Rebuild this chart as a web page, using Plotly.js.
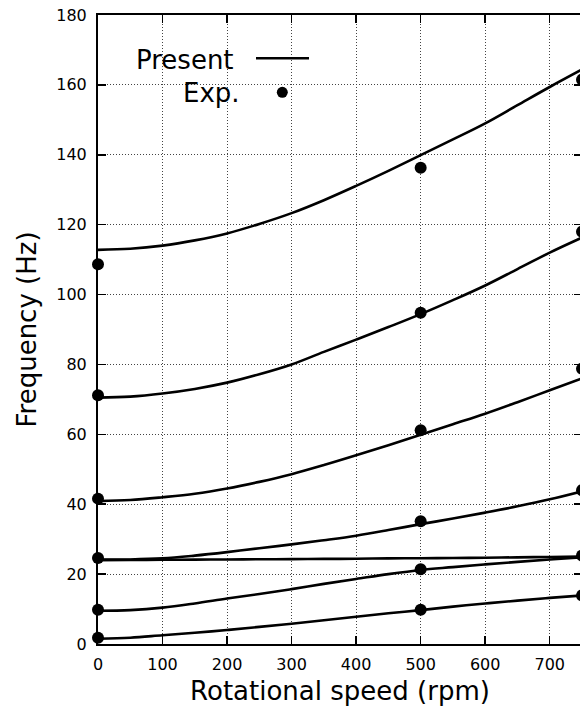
<!DOCTYPE html>
<html>
<head>
<meta charset="utf-8">
<script src="https://cdn.plot.ly/plotly-3.0.1.min.js"></script>
<style>
html, body { margin: 0; padding: 0; width: 580px; height: 715px; overflow: hidden; background: #fff; }
#chart { width: 584px; height: 715px; }
</style>
</head>
<body>
<div id="chart"></div>
<script>
// Rotational speed grid for the computed ("Present") curves
const rpm = [0, 50, 100, 150, 200, 250, 300, 350, 400, 450, 500, 550, 600, 650, 700, 750];

// Present (computed) frequencies, Hz
const mode1 = [1.5, 1.8, 2.5, 3.2, 4.0, 4.9, 5.8, 6.8, 7.8, 8.8, 9.7, 10.7, 11.6, 12.4, 13.2, 13.9];
const mode2 = [9.5, 9.7, 10.4, 11.6, 13.0, 14.3, 15.7, 17.2, 18.6, 20.0, 21.2, 22.0, 22.8, 23.5, 24.2, 24.8];
const mode3 = [24.0, 24.05, 24.1, 24.15, 24.2, 24.25, 24.3, 24.35, 24.4, 24.5, 24.55, 24.6, 24.7, 24.8, 24.9, 25.0];
const mode4 = [24.2, 24.2, 24.5, 25.3, 26.3, 27.4, 28.5, 29.7, 31.0, 32.6, 34.3, 35.9, 37.6, 39.4, 41.4, 43.7];
const mode5 = [40.9, 41.2, 42.0, 43.0, 44.5, 46.4, 48.6, 51.2, 54.0, 56.9, 59.9, 62.9, 65.9, 69.2, 72.6, 76.0];
const mode6 = [70.5, 70.8, 71.7, 73.0, 74.8, 77.2, 80.0, 83.6, 87.1, 90.7, 94.4, 98.4, 102.6, 107.3, 112.0, 116.3];
const mode7 = [112.8, 113.1, 114.0, 115.5, 117.5, 120.2, 123.3, 127.0, 131.1, 135.4, 139.9, 144.4, 149.0, 154.2, 159.4, 164.4];

// Experimental frequencies, Hz, at three speeds
const expSpeeds = [0, 500, 750];
const expAt0   = [1.8, 9.8, 24.6, 41.6, 71.2, 108.7];
const expAt500 = [9.8, 21.4, 35.1, 61.2, 94.8, 136.3];
const expAt750 = [13.9, 25.3, 44.0, 78.8, 118.0, 161.5];

// Tick values
const xTicks = [0, 100, 200, 300, 400, 500, 600, 700];
const yTicks = [0, 20, 40, 60, 80, 100, 120, 140, 160, 180];

const modes = [mode1, mode2, mode3, mode4, mode5, mode6, mode7];
const traces = modes.map(m => ({
  x: rpm, y: m, type: 'scatter', mode: 'lines',
  line: {color: '#000', width: 2.6, shape: 'spline', smoothing: 1},
  showlegend: false, hoverinfo: 'skip', cliponaxis: true
}));

const expX = [], expY = [];
[expAt0, expAt500, expAt750].forEach((arr, i) => {
  arr.forEach(v => { expX.push(expSpeeds[i]); expY.push(v); });
});
traces.push({
  x: expX, y: expY, type: 'scatter', mode: 'markers',
  marker: {color: '#000', size: 12, symbol: 'circle'},
  showlegend: false, cliponaxis: false
});

const font = 'DejaVu Sans, sans-serif';
const axisCommon = {
  showline: true, linecolor: '#000', linewidth: 2, mirror: 'ticks',
  ticks: 'inside', ticklen: 8, tickwidth: 1.5, tickcolor: '#000',
  showgrid: true, gridcolor: '#444', gridwidth: 1, griddash: '1px,2px',
  zeroline: false, tickfont: {family: font, size: 16, color: '#000'}
};

// plot area in pixels: x 98..582, y 15..644
const px = v => (v - 98) / 484;
const py = v => (644 - v) / 629;

const layout = {
  width: 584, height: 715,
  margin: {l: 98, r: 2, t: 15, b: 71},
  paper_bgcolor: '#fff', plot_bgcolor: '#fff',
  font: {family: font, color: '#000'},
  xaxis: Object.assign({}, axisCommon, {
    range: [0, 750], tickvals: xTicks, ticktext: xTicks.map(String),
    ticklabelstandoff: 5,
    title: {text: 'Rotational speed (rpm)', font: {family: font, size: 26, color: '#000'}, standoff: 9}
  }),
  yaxis: Object.assign({}, axisCommon, {
    range: [0, 180], tickvals: yTicks, ticktext: yTicks.map(String),
    ticklabelstandoff: 6,
    title: {text: 'Frequency (Hz)', font: {family: font, size: 26, color: '#000'}, standoff: 12}
  }),
  annotations: [
    {xref: 'paper', yref: 'paper', x: px(236), y: py(60), xanchor: 'right', yanchor: 'middle',
     text: 'Present', showarrow: false, font: {family: font, size: 26, color: '#000'}},
    {xref: 'paper', yref: 'paper', x: px(242), y: py(93), xanchor: 'right', yanchor: 'middle',
     text: 'Exp.', showarrow: false, font: {family: font, size: 26, color: '#000'}}
  ],
  shapes: [
    {type: 'line', xref: 'paper', yref: 'paper', x0: px(256), x1: px(309), y0: py(58.3), y1: py(58.3),
     line: {color: '#000', width: 2.6}},
    {type: 'circle', xref: 'paper', yref: 'paper', x0: px(282.3 - 5.5), x1: px(282.3 + 5.5),
     y0: py(92.3 + 5.5), y1: py(92.3 - 5.5), fillcolor: '#000', line: {color: '#000', width: 0}}
  ]
};

Plotly.newPlot('chart', traces, layout, {displayModeBar: false, staticPlot: true});
</script>
</body>
</html>
